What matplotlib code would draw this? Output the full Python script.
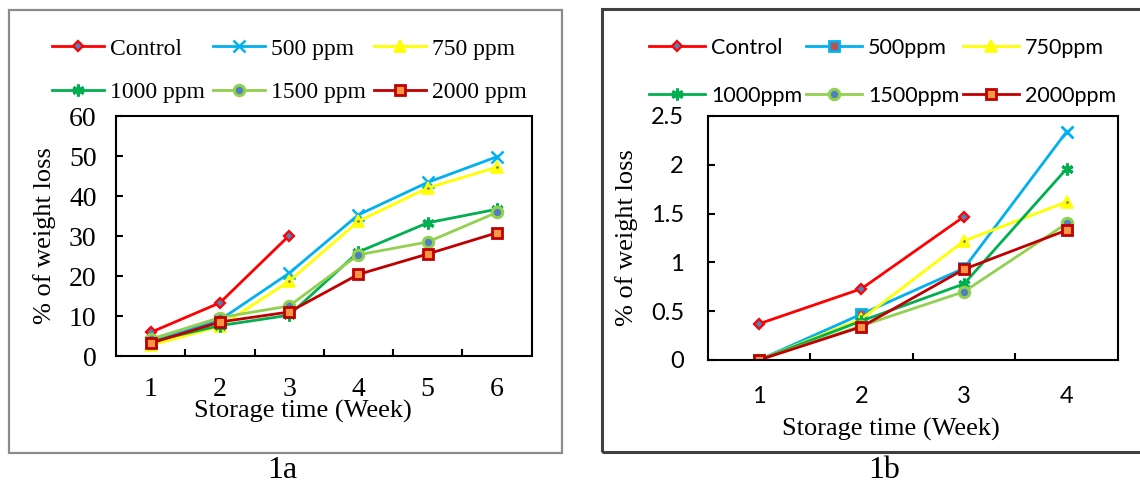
"""
Weight loss (%) during storage for control and coated samples.
Two panels: 1a (6 weeks) and 1b (4 weeks).
"""

import matplotlib.pyplot as plt
from matplotlib.patches import Rectangle
from matplotlib.ticker import FuncFormatter

SERIF = ["Liberation Serif", "DejaVu Serif"]
SANS = ["Lato", "DejaVu Sans"]

# ============================================================================
# Data
# ============================================================================

weeks_a = [1, 2, 3, 4, 5, 6]
control_a = [5.9, 13.3, 30.1]
ppm500_a = [3.5, 9.0, 20.7, 35.3, 43.4, 49.8]
ppm750_a = [2.7, 7.4, 18.7, 33.7, 42.0, 47.2]
ppm1000_a = [3.6, 7.6, 10.2, 26.0, 33.3, 36.7]
ppm1500_a = [4.2, 9.6, 12.5, 25.3, 28.5, 35.9]
ppm2000_a = [3.2, 8.5, 11.0, 20.4, 25.5, 30.8]
labels_a = ["Control", "500 ppm", "750 ppm", "1000 ppm", "1500 ppm", "2000 ppm"]

weeks_b = [1, 2, 3, 4]
control_b = [0.37, 0.73, 1.47]
ppm500_b = [0.0, 0.47, 0.94, 2.34]
ppm750_b = [0.0, 0.42, 1.22, 1.62]
ppm1000_b = [0.0, 0.40, 0.78, 1.96]
ppm1500_b = [0.0, 0.35, 0.70, 1.40]
ppm2000_b = [0.0, 0.34, 0.93, 1.33]
labels_b = ["Control", "500ppm", "750ppm", "1000ppm", "1500ppm", "2000ppm"]

# ============================================================================
# Styles
# ============================================================================

STYLES = [
    dict(color="#FF0000", marker="D", ms=5.5, mfc="#4F81BD", mec="#FF0000", mew=1.6),
    dict(color="#00B0F0", marker="x", ms=8, mfc="#00B0F0", mec="#00B0F0", mew=1.8),
    dict(color="#FFFF00", marker="^", ms=8.5, mfc="#FFFF00", mec="#FFFF00", mew=1.2),
    dict(color="#00B050", marker=(6, 2, 0), ms=8.5, mfc="#00B050", mec="#00B050", mew=2.2),
    dict(color="#92D050", marker="o", ms=7.5, mfc="#4F81BD", mec="#92D050", mew=2.2),
    dict(color="#C00000", marker="s", ms=7.5, mfc="#F79646", mec="#C00000", mew=2.0),
]


def px(x, y):
    """Pixel position (from top-left) to figure fraction."""
    return x / 1140, 1 - y / 484


def draw_panel(ax, weeks, series, labels, tick_font, tick_size, ymax, ystep,
               ypad, xpad, square_500=False):
    handles = []
    for i, (vals, st) in enumerate(zip(series, STYLES)):
        x = weeks[:len(vals)]
        st = dict(st)
        if i == 1 and square_500:
            # 500 ppm in 1b: square markers, last point drawn as a cross
            st.update(marker="s", ms=7.5, mfc="#C0504D", mec="#00B0F0", mew=2.0)
            h, = ax.plot(x, vals, lw=2.0, markevery=list(range(len(vals) - 1)),
                         zorder=3, label=labels[i], **st)
            ax.plot(x[-1:], vals[-1:], ls="none", marker="x", ms=8,
                    color="#00B0F0", mew=2.0, zorder=3)
        else:
            h, = ax.plot(x, vals, lw=2.0, zorder=3 + i * 0.1, label=labels[i], **st)
        if i == 2:
            ax.plot(x, vals, ls="none", marker=".", ms=2, color="#7F7F7F",
                    zorder=3.3)
        handles.append(h)

    n = len(weeks)
    ax.set_xlim(0.5, n + 0.5)
    ax.set_ylim(0, ymax)
    ax.set_xticks(weeks)
    ax.set_xticks([w + 0.5 for w in weeks[:-1]], minor=True)
    ax.set_yticks([k * ystep for k in range(int(round(ymax / ystep)) + 1)])
    ax.yaxis.set_major_formatter(FuncFormatter(lambda v, p: f"{v:g}"))

    ax.tick_params(axis="x", which="major", length=0, pad=xpad)
    ax.tick_params(axis="x", which="minor", direction="in", length=5, width=1.5)
    ax.tick_params(axis="y", which="major", direction="in", length=5, width=1.5,
                   pad=ypad)
    for lab in ax.get_xticklabels() + ax.get_yticklabels():
        lab.set_fontfamily(tick_font)
        lab.set_fontsize(tick_size)
    for sp in ax.spines.values():
        sp.set_linewidth(1.5)
        sp.set_zorder(5)
    return handles


fig = plt.figure(figsize=(11.4, 4.84), dpi=100)

# Panel borders
fig.patches.append(Rectangle(px(8.5, 453), (562 - 8.5) / 1140, (453 - 10) / 484,
                             transform=fig.transFigure, fill=False,
                             edgecolor="#8C8C8C", lw=1.6))
fig.patches.append(Rectangle(px(602, 452), (1160 - 602) / 1140, (452 - 9) / 484,
                             transform=fig.transFigure, fill=False,
                             edgecolor="#404040", lw=2.2))

# ---------------------------------------------------------------------------
# Panel 1a
# ---------------------------------------------------------------------------
x0, y0 = px(116, 356)
ax_a = fig.add_axes([x0, y0, (531.5 - 116) / 1140, (356 - 116) / 484])
h_a = draw_panel(ax_a, weeks_a,
                 [control_a, ppm500_a, ppm750_a, ppm1000_a, ppm1500_a, ppm2000_a],
                 labels_a, SERIF, 20, 60, 10, ypad=14, xpad=15)
ax_a.set_xlabel("Storage time (Week)", fontfamily=SERIF, fontsize=19)
ax_a.xaxis.set_label_coords((303 - 116) / 415.5, -(411 - 356) / 240)
ax_a.xaxis.label.set_va("center")
ax_a.set_ylabel("% of weight loss", fontfamily=SERIF, fontsize=19)
ax_a.yaxis.set_label_coords(-(116 - 45) / 415.5, 0.5)
ax_a.yaxis.label.set_va("center")

order = [0, 3, 1, 4, 2, 5]
fig.legend([h_a[i] for i in order], [labels_a[i] for i in order],
           loc="upper left", bbox_to_anchor=px(52, 38), ncol=3, frameon=False,
           prop=dict(family=SERIF, size=17), handlelength=2.2,
           handletextpad=0.25, columnspacing=0.35, labelspacing=0.95,
           borderpad=0, borderaxespad=0)

# ---------------------------------------------------------------------------
# Panel 1b
# ---------------------------------------------------------------------------
x0, y0 = px(707.5, 360)
ax_b = fig.add_axes([x0, y0, (1118 - 707.5) / 1140, (360 - 116) / 484])
h_b = draw_panel(ax_b, weeks_b,
                 [control_b, ppm500_b, ppm750_b, ppm1000_b, ppm1500_b, ppm2000_b],
                 labels_b, SANS, 17, 2.5, 0.5, ypad=17, xpad=19, square_500=True)
ax_b.set_xlabel("Storage time (Week)", fontfamily=SERIF, fontsize=19)
ax_b.xaxis.set_label_coords((891 - 707.5) / 410.5, -(429 - 360) / 244)
ax_b.xaxis.label.set_va("center")
ax_b.set_ylabel("% of weight loss", fontfamily=SERIF, fontsize=19)
ax_b.yaxis.set_label_coords(-(707.5 - 627) / 410.5, 0.5)
ax_b.yaxis.label.set_va("center")

fig.legend([h_b[i] for i in order], [labels_b[i] for i in order],
           loc="upper left", bbox_to_anchor=px(649, 38), ncol=3, frameon=False,
           prop=dict(family=SANS, size=15.5), handlelength=2.6,
           handletextpad=0.3, columnspacing=0.15, labelspacing=1.3,
           borderpad=0, borderaxespad=0)

# Captions
fig.text(*px(282, 471), "1a", ha="center", va="center", fontfamily=SERIF,
         fontsize=23)
fig.text(*px(884, 471), "1b", ha="center", va="center", fontfamily=SERIF,
         fontsize=23)

fig.savefig("out.png", dpi=100)
